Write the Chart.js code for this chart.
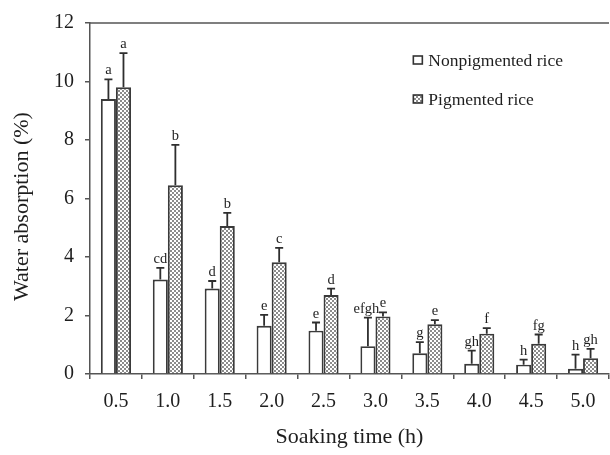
<!DOCTYPE html>
<html>
<head>
<meta charset="utf-8">
<script src="https://cdn.jsdelivr.net/npm/chart.js@4/dist/chart.umd.min.js"></script>
<style>
html,body{margin:0;padding:0;background:#fff;}
#wrap{width:610px;height:455px;}
</style>
</head>
<body>
<div id="wrap"><canvas id="c" width="610" height="455"></canvas></div>
<script>
const categories = ['0.5','1.0','1.5','2.0','2.5','3.0','3.5','4.0','4.5','5.0'];
const nonpigmented = [9.40, 3.23, 2.92, 1.65, 1.48, 0.95, 0.71, 0.35, 0.32, 0.18];
const nonpigmentedErr = [0.67, 0.40, 0.26, 0.37, 0.28, 0.98, 0.38, 0.45, 0.17, 0.48];
const pigmented = [9.80, 6.45, 5.06, 3.82, 2.70, 1.97, 1.70, 1.38, 1.03, 0.54];
const pigmentedErr = [1.17, 1.38, 0.45, 0.49, 0.22, 0.14, 0.14, 0.19, 0.32, 0.32];
const nonpigmentedLetters = ['a','cd','d','e','e','efgh','g','gh','h','h'];
const pigmentedLetters = ['a','b','b','c','d','e','e','f','fg','gh'];
const yTicks = [0, 2, 4, 6, 8, 10, 12];

const SERIF = '"Liberation Serif","Times New Roman",serif';
const AXIS = '#555';
const TEXT = '#1e1e1e';
const EDGE = '#3a3a3a';

function makePattern(){
  const p = document.createElement('canvas');
  p.width = 4; p.height = 4;
  const g = p.getContext('2d');
  g.fillStyle = '#ffffff'; g.fillRect(0,0,4,4);
  g.fillStyle = '#8c8c8c';
  g.fillRect(0,0,2,2); g.fillRect(2,2,2,2);
  return g.createPattern(p, 'repeat');
}
const ctx0 = document.getElementById('c').getContext('2d');
const pattern = makePattern();

const extras = {
  id: 'extras',
  afterDatasetsDraw(chart){
    const ctx = chart.ctx;
    const ca = chart.chartArea;
    const y = chart.scales.y;
    ctx.save();
    // top frame line
    ctx.strokeStyle = AXIS; ctx.lineWidth = 1.5;
    ctx.beginPath(); ctx.moveTo(ca.left, ca.top); ctx.lineTo(ca.right, ca.top); ctx.stroke();
    // error bars + letters
    const errs = [nonpigmentedErr, pigmentedErr];
    const letters = [nonpigmentedLetters, pigmentedLetters];
    chart.data.datasets.forEach((ds, di) => {
      const meta = chart.getDatasetMeta(di);
      meta.data.forEach((bar, i) => {
        const v = ds.data[i];
        const top = y.getPixelForValue(v + errs[di][i]);
        const x = bar.x;
        ctx.strokeStyle = '#2e2e2e'; ctx.lineWidth = 1.8;
        ctx.beginPath();
        ctx.moveTo(x, bar.y); ctx.lineTo(x, top);
        ctx.moveTo(x - 4, top); ctx.lineTo(x + 4, top);
        ctx.stroke();
        ctx.fillStyle = TEXT;
        ctx.font = '14.5px ' + SERIF;
        ctx.textAlign = 'center'; ctx.textBaseline = 'alphabetic';
        // keep long labels clear of the neighbouring label
        const w = ctx.measureText(letters[di][i]).width;
        const shift = (di === 0 && w > bar.width * 1.5) ? -(w - bar.width * 1.5) / 2 : 0;
        ctx.fillText(letters[di][i], x + shift, top - 5);
      });
    });
    // legend
    const lx = ca.left + (ca.right - ca.left) * 0.623;
    const rows = [ca.top + 37, ca.top + 76];
    chart.data.datasets.forEach((ds, di) => {
      const cy = rows[di];
      ctx.fillStyle = di === 0 ? '#fff' : pattern;
      ctx.fillRect(lx, cy - 4, 9, 8);
      ctx.strokeStyle = '#333'; ctx.lineWidth = 1.6;
      ctx.strokeRect(lx, cy - 4, 9, 8);
      ctx.fillStyle = TEXT;
      ctx.font = '17.5px ' + SERIF;
      ctx.textAlign = 'left'; ctx.textBaseline = 'middle';
      ctx.fillText(ds.label, lx + 15, cy + 1);
    });
    // y axis title
    ctx.translate(22, (ca.top + ca.bottom) / 2 + 8);
    ctx.rotate(-Math.PI / 2);
    ctx.fillStyle = TEXT;
    ctx.font = '22px ' + SERIF;
    ctx.textAlign = 'center'; ctx.textBaseline = 'middle';
    ctx.fillText('Water absorption (%)', 0, 0);
    ctx.restore();
  }
};

new Chart(ctx0, {
  type: 'bar',
  data: {
    labels: categories,
    datasets: [
      { label: 'Nonpigmented rice', data: nonpigmented, backgroundColor: '#ffffff', borderColor: EDGE, borderWidth: 1.9, borderSkipped: 'bottom', categoryPercentage: 0.58, barPercentage: 1.0 },
      { label: 'Pigmented rice', data: pigmented, backgroundColor: pattern, borderColor: EDGE, borderWidth: 1.9, borderSkipped: 'bottom', categoryPercentage: 0.58, barPercentage: 1.0 }
    ]
  },
  options: {
    responsive: false,
    animation: false,
    events: [],
    layout: { padding: { top: 21, right: 1, left: 0, bottom: 0 } },
    plugins: { legend: { display: false }, tooltip: { enabled: false } },
    scales: {
      x: {
        grid: { display: true, drawOnChartArea: false, offset: true, color: AXIS, lineWidth: 1.5, tickLength: 5 },
        border: { display: true, color: AXIS, width: 1.5 },
        ticks: { color: TEXT, font: { family: SERIF, size: 20 }, padding: 11, maxRotation: 0 },
        title: { display: true, text: 'Soaking time (h)', color: TEXT, font: { family: SERIF, size: 22 }, padding: { top: 0, bottom: 5 } },
        afterFit(s){ s.height = 81; }
      },
      y: {
        min: 0, max: 12,
        afterBuildTicks(s){ s.ticks = yTicks.map(v => ({ value: v })); },
        grid: { display: true, drawOnChartArea: false, color: AXIS, lineWidth: 1.5, tickLength: 5 },
        border: { display: true, color: AXIS, width: 1.5 },
        ticks: { color: TEXT, font: { family: SERIF, size: 20 }, padding: 11 },
        title: { display: false },
        afterFit(s){ s.width = 90; }
      }
    }
  },
  plugins: [extras]
});
</script>
</body>
</html>
